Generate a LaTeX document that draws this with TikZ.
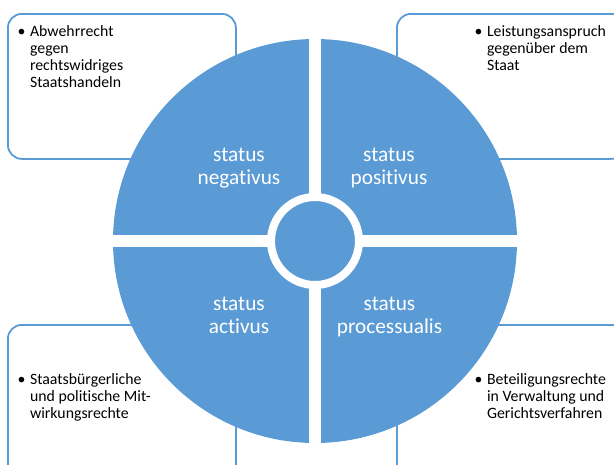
\documentclass[tikz,border=0pt]{standalone}
\usepackage{fontspec}
\setmainfont{Carlito}[Ligatures={NoCommon,NoContextual}]
\definecolor{myblue}{RGB}{91,155,213}

\begin{document}
\begin{tikzpicture}[x=1pt,y=-1pt,
  infobox/.style={draw=myblue,line width=1.8pt,rounded corners=14pt,fill=white,
    minimum width=228pt,minimum height=145pt,anchor=north west,inner sep=0pt},
  infotext/.style={inner sep=0pt,anchor=base west,font=\fontsize{15.8}{17}\selectfont},
  statuslabel/.style={inner sep=0pt,anchor=base,text=white,font=\fontsize{21.3}{23.5}\selectfont}]

  \useasboundingbox (0,0) rectangle (614,464);

  % boxes behind the disc
  \node[infobox] (boxnw) at (7,13) {};
  \node[infobox] (boxne) at (396,13) {};
  \node[infobox,minimum height=170pt] (boxsw) at (7,324) {};
  \node[infobox,minimum height=170pt] (boxse) at (396,324) {};

  % disc with cross and hub
  \node[circle,fill=myblue,inner sep=0pt,minimum size=404pt] (disc) at (315,241) {};
  \draw[white,line width=12pt] (disc.north) -- (disc.south)
   (disc.west) -- (disc.east);
  \node[circle,draw=white,line width=8pt,fill=myblue,inner sep=0pt,minimum size=88pt] (hub) at (disc) {};

  % quadrant labels
  \node[statuslabel] (neg) at (239,161) {\begin{tabular}[t]{@{}c@{}}status\\negativus\end{tabular}};
  \node[statuslabel] (pos) at (389,161) {\begin{tabular}[t]{@{}c@{}}status\\positivus\end{tabular}};
  \node[statuslabel] (act) at (239,310) {\begin{tabular}[t]{@{}c@{}}status\\activus\end{tabular}};
  \node[statuslabel] (proc) at (389.5,310) {\begin{tabular}[t]{@{}c@{}}status\\processualis\end{tabular}};

  % texts in the boxes
  \node[infotext] (textnw) at (17.5,36) {\begin{tabular}[t]{@{}l@{\hspace{4.5pt}}l@{}}\textbullet & Abwehrrecht\\
    & gegen\\ & rechtswidriges\\ & Staatshandeln\end{tabular}};
  \node[infotext] (textne) at (474.5,36) {\begin{tabular}[t]{@{}l@{\hspace{4.5pt}}l@{}}\textbullet & Leistungsanspruch\\
    & gegenüber dem\\ & Staat\end{tabular}};
  \node[infotext] (textsw) at (17.5,384) {\begin{tabular}[t]{@{}l@{\hspace{4.5pt}}l@{}}\textbullet & Staatsbürgerliche\\
    & und politische Mit-\\ & wirkungsrechte\end{tabular}};
  \node[infotext] (textse) at (474.5,384) {\begin{tabular}[t]{@{}l@{\hspace{4.5pt}}l@{}}\textbullet & Beteiligungsrechte\\
    & in Verwaltung und\\ & Gerichtsverfahren\end{tabular}};

\end{tikzpicture}
\end{document}
